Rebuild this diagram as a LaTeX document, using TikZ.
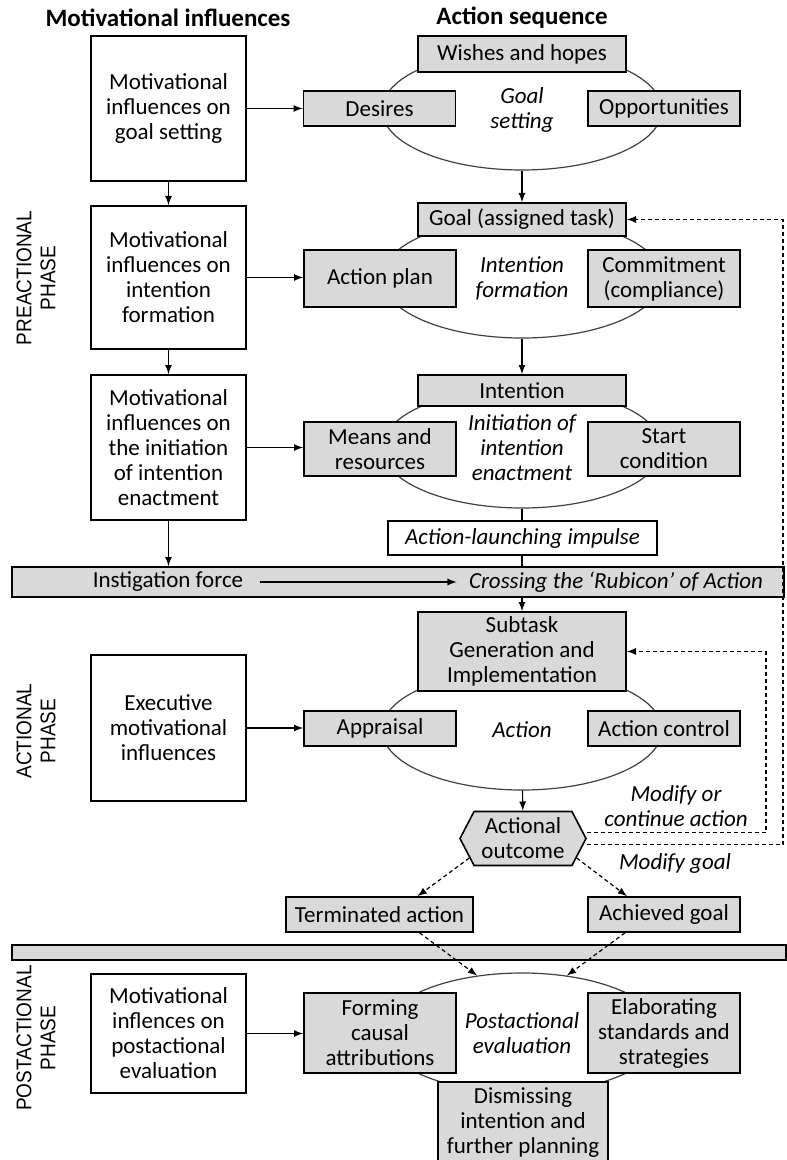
\documentclass[tikz,border=0pt]{standalone}
\usepackage{fontspec}
\setmainfont{Carlito}
\newfontfamily\phasefont{Liberation Sans}
\usetikzlibrary{shapes.geometric,shapes.symbols,positioning}
\tikzset{
  txt/.style={font=\fontsize{11.5}{12.5}\selectfont, align=center, inner sep=1pt},
  itxt/.style={txt, font=\fontsize{11.5}{12.5}\selectfont\itshape},
  head/.style={txt, font=\fontsize{12.5}{14}\selectfont\bfseries},
  mbox/.style={txt, draw, line width=0.8pt, fill=white, minimum width=77.5pt},
  gbox/.style={txt, draw, line width=0.8pt, fill=gray!30, minimum width=76pt},
  wbox/.style={gbox, minimum width=104pt},
  stage/.style={itxt, draw=black!75, line width=0.6pt, shape=ellipse, minimum width=140pt, minimum height=60pt, inner sep=0pt},
  phase/.style={rotate=90, align=center, font=\phasefont\fontsize{9.5}{12}\selectfont},
  link/.style={-latex, line width=0.6pt},
  dashlink/.style={-latex, line width=0.6pt, dash pattern=on 2pt off 1.5pt}
}

\begin{document}
\begin{tikzpicture}[x=0.5pt,y=-0.5pt]
  \useasboundingbox (0,0) rectangle (786,1160);
  \node[head] (hmot) at (168,18) {Motivational influences};
  \node[head] (hact) at (522,18) {Action sequence};

  \node[stage] (goalset) at (522,110) {Goal\\setting};
  \node[stage] (intform) at (522,278) {Intention\\formation};
  \node[stage] (initiate) at (522,448) {Initiation of\\intention\\enactment};
  \node[stage] (action) at (522,730) {Action};
  \node[stage] (posteval) at (522,1033) {Postactional\\evaluation};

  \node[mbox, minimum height=72.5pt] (msetting) at (168.5,108.5) {Motivational\\influences on\\goal setting};
  \node[mbox, minimum height=71.5pt] (mformation) at (168.5,277.5) {Motivational\\influences on\\intention\\formation};
  \node[mbox, minimum height=72.5pt] (minitiation) at (168.5,447.5) {Motivational\\influences on\\the initiation\\of intention\\enactment};
  \node[mbox, minimum height=73pt] (mexecutive) at (168.5,728) {Executive\\motivational\\influences};
  \node[mbox, minimum height=59.5pt] (mpost) at (168.5,1033.5) {Motivational\\inflences on\\postactional\\evaluation};

  \node[wbox, minimum height=18pt] (wishes) at (522,54) {Wishes and hopes};
  \node[gbox, minimum height=17.5pt] (desires) at (379.5,108.5) {Desires};
  \node[gbox, minimum height=17.5pt] (opport) at (664,108.5) {Opportunities};
  \node[wbox, minimum height=16.5pt] (goal) at (522,219.5) {Goal (assigned task)};
  \node[gbox, minimum height=28.5pt] (plan) at (380,278.5) {Action plan};
  \node[gbox, minimum height=28.5pt] (commit) at (664,278.5) {Commitment\\(compliance)};
  \node[wbox, minimum height=15.5pt] (intention) at (522,390.5) {Intention};
  \node[gbox, minimum height=27pt] (means) at (380,449) {Means and\\resources};
  \node[gbox, minimum height=27pt] (startcond) at (664,449) {Start\\condition};
  \node[itxt, draw, line width=0.8pt, fill=white, minimum width=134.5pt, minimum height=17pt] (impulse) at (522.5,538) {Action-launching impulse};

  \node[draw, line width=0.8pt, fill=gray!30, minimum width=386pt, minimum height=15pt, inner sep=0pt] (rubicon) at (398,582) {};
  \node[txt] (instig) at (168,582) {Instigation force};
  \node[itxt] (crossing) at (616,582) {Crossing the ‘Rubicon’ of Action};

  \node[wbox, minimum height=39.5pt] (subtask) at (522,651.5) {Subtask\\Generation and\\Implementation};
  \node[gbox, minimum height=17.5pt] (appraisal) at (380,728.5) {Appraisal};
  \node[gbox, minimum height=17.5pt] (control) at (664,728.5) {Action control};
  \node[txt, draw, line width=0.8pt, fill=gray!30, shape=signal, signal to=east and west, signal pointer angle=125, minimum width=63pt, minimum height=27pt, inner sep=0pt] (outcome) at (523,838.5) {Actional\\outcome};
  \node[itxt] (modcont) at (676,806) {Modify or\\continue action};
  \node[itxt] (modgoal) at (675,863) {Modify goal};
  \node[gbox, minimum width=93.5pt, minimum height=17.5pt] (terminated) at (379.5,914.5) {Terminated action};
  \node[gbox, minimum height=17.5pt] (achieved) at (664,914.5) {Achieved goal};

  \node[draw, line width=0.8pt, fill=gray!30, minimum width=387pt, minimum height=7.5pt, inner sep=0pt] (divider) at (399,952.5) {};
  \node[gbox, minimum height=40pt] (forming) at (380,1033) {Forming\\causal\\attributions};
  \node[gbox, minimum height=40pt] (elaborate) at (664,1033) {Elaborating\\standards and\\strategies};
  \node[gbox, minimum width=85pt, minimum height=41pt] (dismiss) at (523,1123) {Dismissing\\intention and\\further planning};

  \node[phase] (prephase) at (36,278) {\scalebox{1}[1.12]{PREACTIONAL}\\\scalebox{1}[1.12]{PHASE}};
  \node[phase] (actphase) at (36,731) {\scalebox{1}[1.12]{ACTIONAL}\\\scalebox{1}[1.12]{PHASE}};
  \node[phase] (postphase) at (36,1038) {\scalebox{1}[1.12]{POSTACTIONAL}\\\scalebox{1}[1.12]{PHASE}};

  \draw[link] (msetting) -- (mformation);
  \draw[link] (mformation) -- (minitiation);
  \draw[link] (minitiation) -- (minitiation |- rubicon.north);
  \draw[link] (msetting) -- (desires);
  \draw[link] (mformation.east) -- (mformation.east -| plan.west);
  \draw[link] (minitiation.east) -- (minitiation.east -| means.west);
  \draw[link] (mexecutive.east) -- (mexecutive.east -| appraisal.west);
  \draw[link] (mpost.east) -- (mpost.east -| forming.west);

  \draw[link] (goalset) -- (goal);
  \draw[link] (intform) -- (intention);
  \draw[line width=0.6pt] (initiate.south) -- (initiate.south |- impulse.north);
  \draw[line width=0.6pt] (initiate.south |- impulse.south) -- (initiate.south |- rubicon.north);
  \draw[link, shorten <=7pt, shorten >=5pt] (instig) -- (crossing);
  \draw[link] (subtask.north |- rubicon.south) -- (subtask.north);
  \draw[link] (action) -- (outcome);

  \coordinate (loopin) at (766,740);
  \coordinate (loopout) at (783,500);
  \draw[dashlink] ([yshift=3pt]outcome.east) -| (loopin) |- (subtask.east);
  \draw[dashlink] ([yshift=-3pt]outcome.east) -| (loopout) |- (goal.east);
  \draw[dashlink] (outcome.200) -- ([xshift=19pt]terminated.north);
  \draw[dashlink] (outcome.340) -- ([xshift=-18.5pt]achieved.north);
  \draw[dashlink] ([xshift=20pt]terminated.south) -- (posteval.128);
  \draw[dashlink] ([xshift=-19.5pt]achieved.south) -- (posteval.52);
\end{tikzpicture}
\end{document}
